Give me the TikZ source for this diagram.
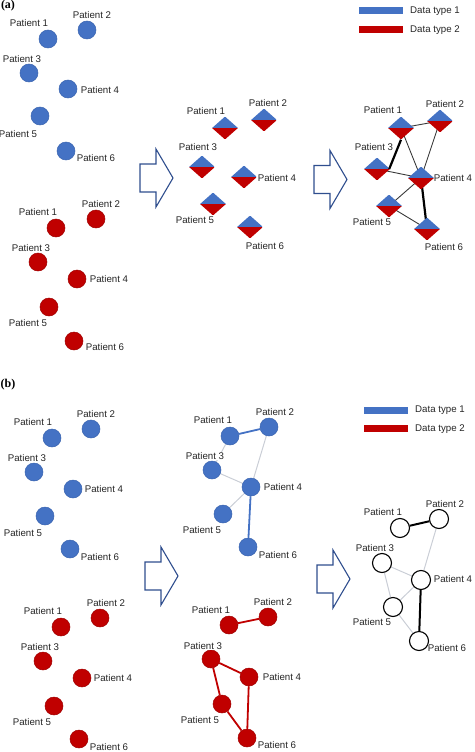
\documentclass[tikz,border=0pt]{standalone}
\usepackage{fontspec}
\setmainfont{Liberation Sans}
\newfontfamily\labserif{Liberation Serif}
\usetikzlibrary{shapes.geometric,backgrounds}
\definecolor{dblue}{HTML}{4472C4}
\definecolor{dblueline}{HTML}{3A64B0}
\definecolor{dred}{HTML}{C00000}
\definecolor{dredline}{HTML}{A00000}
\definecolor{arrowblue}{HTML}{2F4E8E}
\definecolor{lightedge}{HTML}{CACED6}
\definecolor{darkedge}{HTML}{3A3A3A}
\definecolor{labtext}{HTML}{262626}
\tikzset{
  lab/.style={font=\fontsize{9.7}{11}\selectfont, text=labtext, inner sep=0.3pt, fill=white},
  bc/.style={circle, minimum size=18pt, inner sep=0pt, fill=dblue, draw=dblueline, line width=0.5pt},
  rc/.style={circle, minimum size=18pt, inner sep=0pt, fill=dred, draw=dredline, line width=0.5pt},
  wc/.style={circle, minimum size=19pt, inner sep=0pt, fill=white, draw=black, line width=1.1pt},
  dia/.style={diamond, aspect=1, minimum width=26pt, minimum height=23pt, inner sep=0pt,
    path picture={
      \fill[dblue] (path picture bounding box.north west) rectangle (path picture bounding box.east);
      \fill[dred] (path picture bounding box.west) rectangle (path picture bounding box.south east);}},
  thinedge/.style={draw=darkedge, line width=0.9pt},
  thickedge/.style={draw=black, line width=2.2pt},
  greyedge/.style={draw=lightedge, line width=1pt},
  bedge/.style={draw=dblue, line width=1.8pt},
  redge/.style={draw=dred, line width=1.8pt},
  blkedge/.style={draw=black, line width=2pt},
  legbar/.style={inner sep=0pt, minimum width=44pt, minimum height=7pt},
  legtext/.style={font=\fontsize{9.7}{11}\selectfont, text=labtext, inner sep=0pt, anchor=west},
  panel/.style={font=\labserif\bfseries\fontsize{12}{13}\selectfont, inner sep=0pt},
  blockarrow/.pic={\draw[arrowblue, line width=1.1pt, line join=miter, fill=white]
    (0,-14) -- (16,-14) -- (16,-29) -- (33,0) -- (16,29) -- (16,14) -- (0,14) -- cycle;}
}
\begin{document}
\begin{tikzpicture}[x=1pt,y=-1pt]
\useasboundingbox (0,0) rectangle (474,752);

% panel labels
\node[panel] (pa) at (8,6) {(a)};
\node[panel] (pb) at (8,385) {(b)};

% ===== (a) left blue
\foreach \n/\x/\y/\lx/\ly in {1/48/39/29/23, 2/87/30/92/15, 3/29/73/22/59, 4/68/89/100/90, 5/40/116/18/134, 6/66/151/96/158}{
  \node[bc] (ab\n) at (\x,\y) {};
  \node[lab] (abl\n) at (\lx,\ly) {Patient \n};
}
% ===== (a) left red
\foreach \n/\x/\y/\lx/\ly in {1/56/228/38/212, 2/96/219/101/204, 3/38/262/31/248, 4/77/279/109/279, 5/49/307/28/323, 6/74/341/105/347}{
  \node[rc] (ar\n) at (\x,\y) {};
  \node[lab] (arl\n) at (\lx,\ly) {Patient \n};
}
% ===== (a) middle diamonds
\foreach \n/\x/\y/\lx/\ly in {1/225/128/206/111, 2/264/120/268/103, 3/202/167/198/147, 4/244/177/277/178, 5/213/204/195/220, 6/250/227/265/246}{
  \node[dia] (am\n) at (\x,\y) {};
  \node[lab] (aml\n) at (\lx,\ly) {Patient \n};
}
% ===== (a) right diamonds
\foreach \n/\x/\y/\lx/\ly in {1/401/128/383/110, 2/440/121/445/104, 3/377/169/374/147, 4/421/178/453/178, 5/389/206/372/222, 6/427/229/444/247}{
  \node[dia] (an\n) at (\x,\y) {};
  \node[lab] (anl\n) at (\lx,\ly) {Patient \n};
}
\begin{scope}[on background layer]
\draw[thinedge] (an1.center) -- (an2.center);
\draw[thinedge] (an1.center) -- (an4.center);
\draw[thinedge] (an2.center) -- (an4.center);
\draw[thinedge] (an3.center) -- (an4.center);
\draw[thinedge] (an4.center) -- (an5.center);
\draw[thinedge] (an5.center) -- (an6.center);
\draw[thickedge] (an4.center) -- (an6.center);
\end{scope}
\draw[thickedge] (an1.south) -- ([xshift=-1pt]an3.east);

% legend (a)
\node[legbar, fill=dblue] (alb) at (381,10.5) {};
\node[legbar, fill=dred] (alr) at (381,30) {};
\node[legtext] (albt) at (410,11) {Data type 1};
\node[legtext] (alrt) at (410,30) {Data type 2};

% arrows (a)
\pic at (140,178) {blockarrow};
\pic at (314,179.5) {blockarrow};

% ===== (b) left blue
\foreach \n/\x/\y/\lx/\ly in {1/52/438/33/422, 2/91/429/96/414, 3/34/472/27/458, 4/73/489/104/489, 5/45/516/23/533, 6/70/549/100/557}{
  \node[bc] (bb\n) at (\x,\y) {};
  \node[lab] (bbl\n) at (\lx,\ly) {Patient \n};
}
% ===== (b) left red
\foreach \n/\x/\y/\lx/\ly in {1/61/627/43/611, 2/100/618/106/603, 3/43/661/40/647, 4/82/678/113/678, 5/54/706/32/722, 6/79/739/109/747}{
  \node[rc] (br\n) at (\x,\y) {};
  \node[lab] (brl\n) at (\lx,\ly) {Patient \n};
}
% ===== (b) middle blue
\foreach \n/\x/\y/\lx/\ly in {1/230/436/213/420, 2/269/427/275/412, 3/212/470/205/456, 4/251/487/283/487, 5/223/514/202/530, 6/248/547/278/555}{
  \node[bc] (mb\n) at (\x,\y) {};
  \node[lab] (mbl\n) at (\lx,\ly) {Patient \n};
}
\begin{scope}[on background layer]
\draw[greyedge] (mb1) -- (mb3);
\draw[greyedge] (mb2) -- (mb4);
\draw[greyedge] (mb3) -- (mb4);
\draw[greyedge] (mb4) -- (mb5);
\draw[bedge] (mb1) -- (mb2);
\draw[bedge] (mb4) -- (mb6);
\end{scope}
% ===== (b) middle red
\foreach \n/\x/\y/\lx/\ly in {1/229/625/211/610, 2/268/617/273/602, 3/211/659/203/646, 4/249/677/282/677, 5/222/704/200/720, 6/247/738/277/745}{
  \node[rc] (mr\n) at (\x,\y) {};
  \node[lab] (mrl\n) at (\lx,\ly) {Patient \n};
}
\begin{scope}[on background layer]
\draw[redge] (mr1) -- (mr2);
\draw[redge] (mr3) -- (mr4);
\draw[redge] (mr3) -- (mr5);
\draw[redge] (mr4) -- (mr6);
\draw[redge] (mr5) -- (mr6);
\end{scope}
% ===== (b) right white
\foreach \n/\x/\y/\lx/\ly in {1/400/528/383/512, 2/439/519/445/504, 3/382/563/375/548, 4/421/580/453/579, 5/393/607/372/622, 6/419/641/447/648}{
  \node[wc] (bw\n) at (\x,\y) {};
  \node[lab] (bwl\n) at (\lx,\ly) {Patient \n};
}
\begin{scope}[on background layer]
\draw[greyedge] (bw2) -- (bw4);
\draw[greyedge] (bw3) -- (bw4);
\draw[greyedge] (bw3) -- (bw5);
\draw[greyedge] (bw4) -- (bw5);
\draw[greyedge] (bw5) -- (bw6);
\draw[blkedge] (bw1) -- (bw2);
\draw[blkedge] (bw4) -- (bw6);
\end{scope}

% legend (b)
\node[legbar, fill=dblue] (blb) at (385.5,410.5) {};
\node[legbar, fill=dred] (blr) at (385.5,428.5) {};
\node[legtext] (blbt) at (415,410) {Data type 1};
\node[legtext] (blrt) at (415,429) {Data type 2};

% arrows (b)
\pic at (145,576) {blockarrow};
\pic at (317,579) {blockarrow};
\end{tikzpicture}
\end{document}
